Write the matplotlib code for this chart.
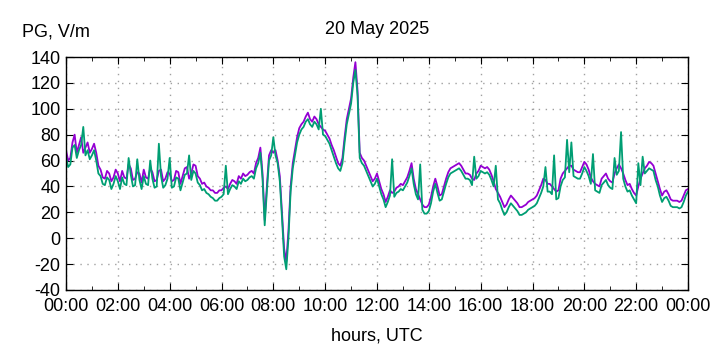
import numpy as np
import matplotlib.pyplot as plt
from matplotlib.ticker import MultipleLocator, FuncFormatter

plt.rcParams['font.family'] = ['Liberation Sans', 'DejaVu Sans']
plt.rcParams['axes.unicode_minus'] = False

# hours since midnight, one reading every 5 minutes
hours = np.arange(289) / 12.0

pg_a = [
    68, 60, 62, 74, 80, 66, 72, 78, 66, 70, 74, 66,
    69, 73, 66, 56, 53, 47, 46, 52, 50, 44, 47, 53,
    50, 44, 52, 47, 46, 57, 54, 45, 46, 51, 50, 43,
    53, 47, 46, 54, 51, 44, 45, 52, 53, 44, 46, 51,
    50, 44, 45, 52, 51, 42, 48, 54, 55, 46, 50, 57,
    56, 48, 46, 42, 43, 40, 39, 37, 37, 35, 35, 37,
    37, 39, 40, 38, 42, 45, 44, 42, 48, 46, 50, 48,
    49, 51, 52, 50, 58, 62, 70, 50, 14, 40, 64, 68,
    66, 68, 60, 48, 20, -8, -18, 6, 40, 58, 68, 78,
    85, 88, 90, 94, 97, 92, 90, 94, 92, 88, 86, 84,
    83, 80, 77, 72, 68, 63, 58, 56, 62, 78, 92, 100,
    108, 124, 136, 114, 66, 62, 60, 56, 52, 48, 44, 46,
    50, 44, 38, 34, 28, 32, 37, 35, 36, 39, 40, 42,
    41, 44, 47, 52, 58, 46, 38, 34, 30, 26, 24, 24,
    26, 32, 40, 46, 40, 33, 34, 40, 46, 51, 54, 55,
    56, 57, 58, 56, 53, 50, 50, 49, 46, 45, 50, 52,
    56, 55, 54, 55, 53, 49, 44, 38, 35, 32, 28, 24,
    26, 30, 33, 31, 29, 27, 24, 24, 25, 26, 28, 29,
    30, 31, 33, 37, 41, 46, 45, 42, 42, 40, 38, 36,
    37, 46, 50, 52, 54, 56, 56, 53, 52, 51, 51, 55,
    59, 57, 53, 47, 44, 42, 41, 40, 46, 48, 50, 46,
    44, 43, 50, 54, 57, 54, 50, 45, 41, 42, 38, 35,
    33, 40, 46, 50, 54, 56, 59, 58, 56, 50, 44, 38,
    33, 36, 37, 34, 30, 29, 29, 29, 28, 29, 33, 37,
    38,
]

pg_b = [
    63, 55, 57, 70, 72, 62, 68, 72, 86, 64, 68, 61,
    64, 68, 60, 50, 48, 42, 41, 47, 45, 38, 42, 48,
    44, 38, 47, 42, 41, 62, 49, 40, 41, 61, 45, 38,
    48, 42, 41, 60, 46, 39, 40, 73, 48, 39, 41, 46,
    62, 39, 40, 47, 46, 37, 43, 49, 50, 64, 45, 52,
    50, 43, 41, 37, 38, 35, 34, 32, 31, 29, 29, 31,
    32, 34, 56, 34, 38, 41, 40, 38, 44, 42, 46, 44,
    45, 47, 48, 46, 54, 58, 66, 46, 10, 36, 60, 64,
    78, 64, 58, 44, 16, -14, -24, 0, 36, 54, 64, 74,
    80, 84, 86, 90, 92, 88, 86, 90, 88, 84, 100, 80,
    79, 76, 73, 68, 63, 58, 54, 52, 58, 74, 88, 96,
    104, 120, 130, 110, 62, 58, 56, 52, 48, 44, 40, 42,
    46, 40, 34, 30, 24, 28, 33, 61, 32, 35, 36, 38,
    37, 40, 43, 48, 54, 42, 34, 30, 57, 22, 19, 19,
    21, 27, 36, 42, 35, 29, 30, 36, 42, 47, 50, 51,
    52, 53, 54, 52, 49, 46, 46, 45, 41, 63, 46, 48,
    52, 51, 50, 51, 49, 45, 40, 56, 30, 27, 22, 18,
    20, 24, 27, 25, 23, 21, 18, 18, 19, 20, 22, 23,
    24, 25, 27, 31, 35, 40, 55, 36, 36, 34, 64, 30,
    31, 40, 45, 47, 76, 51, 74, 48, 47, 46, 46, 50,
    55, 52, 48, 42, 65, 37, 36, 35, 41, 43, 45, 41,
    39, 38, 62, 49, 52, 82, 46, 40, 36, 37, 33, 30,
    27, 58, 41, 63, 50, 52, 54, 53, 52, 45, 40, 33,
    28, 31, 32, 29, 25, 24, 24, 24, 23, 24, 28, 33,
    36,
]

fig = plt.figure(figsize=(7.2, 3.5), dpi=100)
ax = fig.add_axes([66 / 720, 1 - 290 / 350, 622 / 720, 233 / 350])

ax.plot(hours, pg_a, color='#9400D3', lw=1.3)
ax.plot(hours, pg_b, color='#009E73', lw=1.3)

ax.set_xlim(0, 24)
ax.set_ylim(-40, 140)
ax.xaxis.set_major_locator(MultipleLocator(2))
ax.xaxis.set_minor_locator(MultipleLocator(1))
ax.yaxis.set_major_locator(MultipleLocator(20))
ax.xaxis.set_major_formatter(FuncFormatter(lambda v, p: '%02d:00' % (int(round(v)) % 24)))

ax.tick_params(which='both', direction='in', top=True, right=True, labelsize=13, color='black')
ax.tick_params(which='major', length=5)
ax.tick_params(which='minor', length=3)
ax.tick_params(axis='x', pad=6)
ax.tick_params(axis='y', pad=4)
for s in ax.spines.values():
    s.set_linewidth(1.0)

ax.grid(True, which='major', color='#a0a0a0', linestyle=(0, (1, 4)), lw=1.0)

fig.text(22 / 720, 1 - 32 / 350, 'PG, V/m', fontsize=13, ha='left', va='center')
fig.text(377 / 720, 1 - 30 / 350, '20 May 2025', fontsize=13, ha='center', va='center')
fig.text(377 / 720, 1 - 336 / 350, 'hours, UTC', fontsize=13, ha='center', va='center')

fig.savefig('out.png', dpi=100)
